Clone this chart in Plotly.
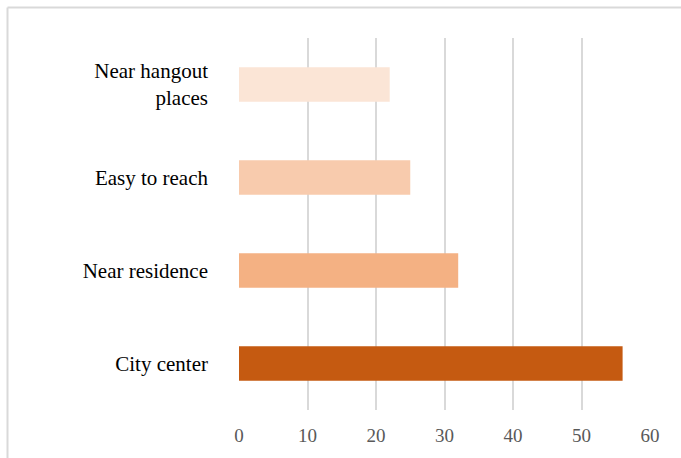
import plotly.graph_objects as go

# Reasons for choosing a location
categories = ["City center", "Near residence", "Easy to reach", "Near hangout<br>places"]
values = [56, 32, 25, 22]
colors = ["#C55A11", "#F4B183", "#F8CBAD", "#FBE5D6"]
x_ticks = [0, 10, 20, 30, 40, 50, 60]

W, H = 681, 458
ml, mr, mt, mb = 239, 31, 38, 48
pw, ph = W - ml - mr, H - mt - mb

fig = go.Figure(
    go.Bar(
        x=values,
        y=categories,
        orientation="h",
        marker=dict(color=colors, line=dict(width=0)),
        width=0.37,
        hoverinfo="x+y",
    )
)

# light grey outer frame
fx = (7.5 - ml) / pw
fy = (H - mb - 7.5) / ph
fig.add_shape(type="line", xref="paper", yref="paper", x0=fx, x1=1.3, y0=fy, y1=fy,
              line=dict(color="#d9d9d9", width=2))
fig.add_shape(type="line", xref="paper", yref="paper", x0=fx, x1=fx, y0=-0.3, y1=fy,
              line=dict(color="#d9d9d9", width=2))

fig.update_layout(
    width=W,
    height=H,
    margin=dict(l=ml, r=mr, t=mt, b=mb),
    paper_bgcolor="white",
    plot_bgcolor="white",
    showlegend=False,
    xaxis=dict(
        range=[0, 60],
        tickvals=x_ticks,
        showgrid=True,
        gridcolor="#d9d9d9",
        gridwidth=2,
        zeroline=False,
        showline=False,
        ticks="",
        ticklabelstandoff=12,
        tickfont=dict(family="Liberation Serif", size=19, color="#595959"),
    ),
    yaxis=dict(
        categoryorder="array",
        categoryarray=categories,
        range=[-0.5, 3.5],
        showgrid=False,
        zeroline=False,
        showline=False,
        ticks="",
        ticklabelstandoff=30,
        tickfont=dict(family="Liberation Serif", size=21, color="#000000"),
    ),
)

fig.write_html("out.html")
